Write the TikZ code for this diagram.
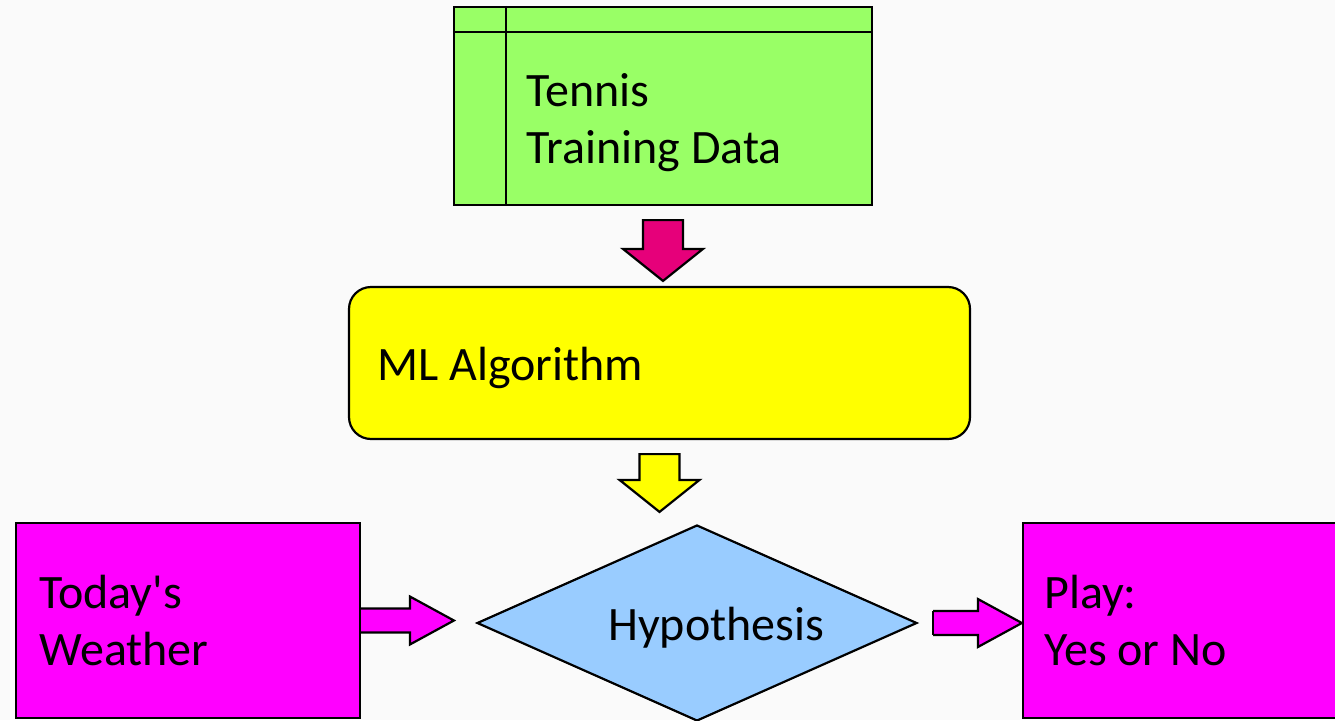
\documentclass[tikz,border=0pt]{standalone}
\usepackage{fontspec}
\setmainfont{Carlito}[Ligatures=TeXOff]
\usetikzlibrary{calc,shapes.geometric}
\definecolor{pagegray}{RGB}{250,250,250}
\definecolor{datagreen}{RGB}{153,255,102}
\definecolor{algoyellow}{RGB}{255,255,0}
\definecolor{hypoblue}{RGB}{153,204,255}
\definecolor{wxmagenta}{RGB}{255,0,255}
\definecolor{pinkarrow}{RGB}{230,0,122}
\def\blockdown[#1](#2)(#3)(#4:#5){\draw[#1] ($(#2)+(-20,#4)$) -- ($(#2)+(20,#4)$) -- ($(#2 |- #3)+(20,-#5-32)$) -- ($(#2 |- #3)+(40,-#5-32)$) -- ($(#2 |- #3)+(0,-#5)$) -- ($(#2 |- #3)+(-40,-#5-32)$) -- ($(#2 |- #3)+(-20,-#5-32)$) -- cycle;}
\def\blockright[#1](#2)(#3)(#4:#5){\path[#1,draw=none] ($(#2)+(#4,-12)$) -- ($(#2 -| #3)+(-#5-44,-12)$) -- ($(#2 -| #3)+(-#5-44,-24)$) -- ($(#2 -| #3)+(-#5,0)$) -- ($(#2 -| #3)+(-#5-44,24)$) -- ($(#2 -| #3)+(-#5-44,12)$) -- ($(#2)+(#4,12)$) -- cycle;
	\draw[#1,fill=none] ($(#2)+(#4,-12)$) -- ($(#2 -| #3)+(-#5-44,-12)$) -- ($(#2 -| #3)+(-#5-44,-24)$) -- ($(#2 -| #3)+(-#5,0)$) -- ($(#2 -| #3)+(-#5-44,24)$) -- ($(#2 -| #3)+(-#5-44,12)$) -- ($(#2)+(#4,12)$);
	\ifdim#4pt>0pt \draw[#1,fill=none] ($(#2)+(#4,-12)$) -- ($(#2)+(#4,12)$);\fi}
\tikzset{
	box/.style={draw=black, line width=2.2pt, inner sep=0pt},
	blk/.style={draw=black, line width=2.2pt, line join=miter},
	lbl/.style={anchor=base west, align=left, inner sep=0pt, font=\fontsize{48}{57}\selectfont},
}

\begin{document}
\begin{tikzpicture}[x=1pt,y=-1pt]
	\fill[pagegray] (0,0) rectangle (1335,720);
	\useasboundingbox (0,0) rectangle (1335,720);
	
	\node[box, fill=datagreen, minimum width=418pt, minimum height=198pt] (train) at (663,106) {};
	\draw[line width=2.2pt] ([yshift=-26pt]train.north west) -- ([yshift=-26pt]train.north east);
	\draw[line width=2.2pt] ([xshift=53pt]train.north west) -- ([xshift=53pt]train.south west);
	\node[lbl] (train-txt) at (526,163) {Tennis\\Training Data};
	
	\node[box, fill=algoyellow, rounded corners=22pt, minimum width=621pt, minimum height=152pt] (algo) at (659.5,363) {};
	\node[lbl] (algo-txt) at (377,380) {ML Algorithm};
	
	\node[box, diamond, fill=hypoblue, minimum width=440pt, minimum height=196pt] (hypo) at (697,623) {};
	\node[lbl] (hypo-txt) at (608,640) {Hypothesis};
	
	\node[box, fill=wxmagenta, minimum width=344pt, minimum height=195pt] (today) at (188,620.5) {};
	\node[lbl] (today-txt) at (39,665) {Today's\\Weather};
	
	\node[box, fill=wxmagenta, minimum width=344pt, minimum height=195pt] (play) at (1195,620.5) {};
	\node[lbl] (play-txt) at (1044,665) {Play:\\Yes or No};
	
	\blockdown[blk, fill=pinkarrow](train.south)(algo.north)(14:5);
	\blockdown[blk, fill=algoyellow](algo.south)(hypo.north)(14:12);
	\blockright[blk, fill=wxmagenta](today.east)(hypo.west)(0:22);
	\blockright[blk, fill=wxmagenta](hypo.east)(play.west)(15:0);
\end{tikzpicture}
\end{document}
